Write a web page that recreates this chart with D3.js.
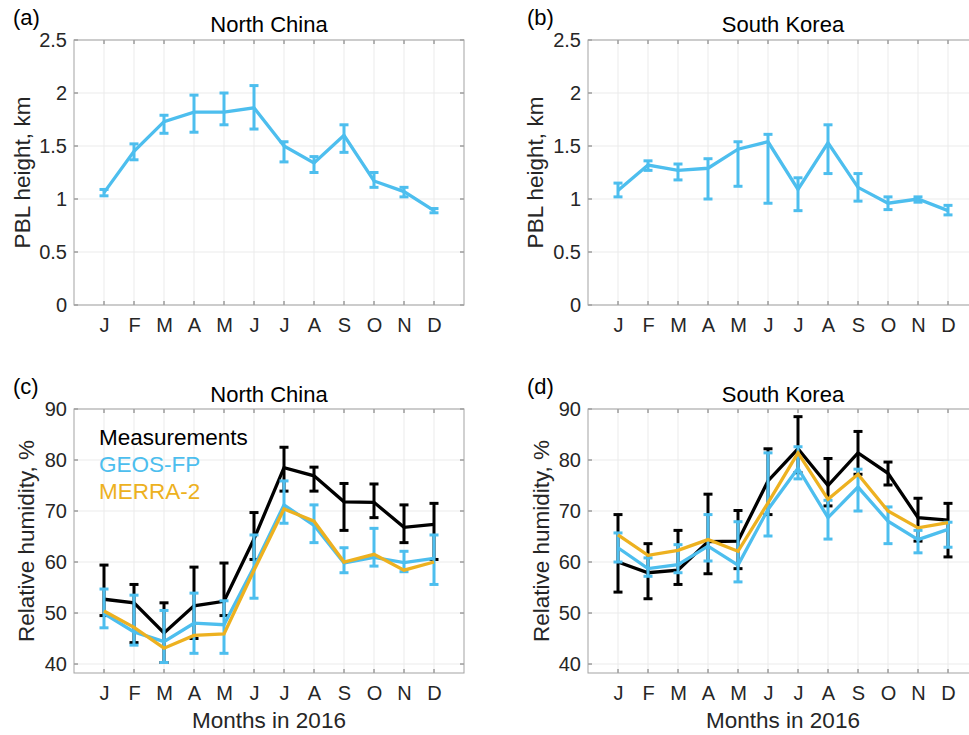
<!DOCTYPE html>
<html>
<head>
<meta charset="utf-8">
<script src="https://cdn.jsdelivr.net/npm/d3@7"></script>
<style>
  html, body { margin: 0; padding: 0; background: #fff; }
  svg { display: block; font-family: "Liberation Sans", Arial, Helvetica, sans-serif; }
</style>
</head>
<body>
<svg id="chart" width="969" height="735"></svg>
<script>
// Month labels and indices (1..12)
const months = ["J", "F", "M", "A", "M", "J", "J", "A", "S", "O", "N", "D"];
const monthIndex = d3.range(1, 13);

// PBL height (km), North China: monthly value with lower/upper error bounds
const pblNorthChina     = [1.06, 1.45, 1.73, 1.82, 1.82, 1.86, 1.50, 1.34, 1.60, 1.17, 1.07, 0.89];
const pblNorthChinaLow  = [1.03, 1.37, 1.62, 1.63, 1.70, 1.66, 1.35, 1.25, 1.44, 1.11, 1.02, 0.87];
const pblNorthChinaHigh = [1.09, 1.52, 1.79, 1.98, 2.00, 2.07, 1.54, 1.40, 1.70, 1.25, 1.11, 0.91];

// PBL height (km), South Korea
const pblSouthKorea     = [1.08, 1.32, 1.27, 1.29, 1.47, 1.54, 1.09, 1.53, 1.11, 0.96, 1.00, 0.89];
const pblSouthKoreaLow  = [1.02, 1.27, 1.18, 1.00, 1.12, 0.96, 0.89, 1.24, 0.98, 0.90, 0.97, 0.85];
const pblSouthKoreaHigh = [1.15, 1.36, 1.33, 1.38, 1.54, 1.61, 1.20, 1.70, 1.24, 1.02, 1.02, 0.94];

// Relative humidity (%), North China
const rhNcMeas     = [52.7, 52.0, 46.1, 51.4, 52.3, 64.5, 78.5, 76.9, 71.8, 71.7, 66.8, 67.4];
const rhNcMeasLow  = [49.5, 44.2, 40.3, 45.0, 49.5, 60.5, 73.9, 73.9, 66.2, 68.7, 63.8, 60.5];
const rhNcMeasHigh = [59.4, 55.6, 52.0, 59.0, 59.8, 69.7, 82.5, 78.6, 75.4, 75.3, 71.2, 71.5];
const rhNcGeos     = [49.9, 46.3, 44.4, 48.0, 47.7, 59.0, 71.2, 67.2, 59.8, 60.9, 59.9, 60.7];
const rhNcGeosLow  = [47.1, 43.7, 40.3, 42.1, 42.1, 52.9, 67.6, 63.8, 57.9, 59.2, 58.1, 55.6];
const rhNcGeosHigh = [54.7, 53.5, 50.5, 53.9, 52.4, 65.3, 75.9, 71.2, 62.8, 66.6, 62.1, 65.3];
const rhNcMerra    = [50.4, 47.2, 43.1, 45.6, 45.9, 58.4, 70.4, 68.0, 60.0, 61.5, 58.4, 60.0];

// Relative humidity (%), South Korea
const rhSkMeas     = [60.0, 57.9, 58.4, 64.0, 64.1, 75.9, 82.2, 75.0, 81.4, 77.4, 68.7, 68.2];
const rhSkMeasLow  = [54.1, 52.8, 55.6, 57.7, 58.7, 69.3, 77.5, 71.0, 77.2, 75.1, 64.1, 61.0];
const rhSkMeasHigh = [69.3, 63.6, 66.2, 73.3, 70.1, 82.2, 88.5, 80.3, 85.6, 79.6, 72.5, 71.5];
const rhSkGeos     = [62.8, 58.7, 59.5, 63.1, 59.4, 70.3, 78.4, 68.7, 74.7, 68.0, 64.4, 66.4];
const rhSkGeosLow  = [60.0, 57.2, 57.9, 60.2, 56.1, 65.1, 76.3, 64.5, 70.0, 63.6, 61.8, 62.9];
const rhSkGeosHigh = [65.7, 60.8, 63.4, 69.3, 67.9, 81.4, 82.6, 72.1, 78.2, 70.8, 66.2, 67.8];
const rhSkMerra    = [65.3, 61.3, 62.3, 64.4, 62.1, 71.6, 81.4, 72.3, 77.2, 70.0, 66.7, 67.7];

// Tick values
const pblTicks = [0, 0.5, 1, 1.5, 2, 2.5];
const rhTicks = [40, 50, 60, 70, 80, 90];

// Series names and colours
const seriesNames = ["Measurements", "GEOS-FP", "MERRA-2"];
const colMeas = "#000000";
const colGeos = "#4DBEEE";
const colMerra = "#EDB120";

const svg = d3.select("#chart");

function drawPanel(cfg) {
  const W = 390, H = cfg.height;
  const x = d3.scaleLinear().domain([0, 13]).range([0, W]);
  const y = d3.scaleLinear().domain(cfg.yDomain).range([H, 0]);
  const g = svg.append("g").attr("transform", `translate(${cfg.left},${cfg.top})`);

  // grid
  g.append("g").selectAll("line").data(monthIndex).join("line")
    .attr("x1", d => x(d)).attr("x2", d => x(d)).attr("y1", 0).attr("y2", H)
    .attr("stroke", "#ebebeb").attr("stroke-width", 1);
  g.append("g").selectAll("line").data(cfg.yTicks).join("line")
    .attr("x1", 0).attr("x2", W).attr("y1", d => y(d)).attr("y2", d => y(d))
    .attr("stroke", "#ebebeb").attr("stroke-width", 1);

  // inward tick marks on all four sides
  const tk = 4;
  const ticks = g.append("g").attr("stroke", "#707070").attr("stroke-width", 1);
  monthIndex.forEach(d => {
    ticks.append("line").attr("x1", x(d)).attr("x2", x(d)).attr("y1", H).attr("y2", H - tk);
    ticks.append("line").attr("x1", x(d)).attr("x2", x(d)).attr("y1", 0).attr("y2", tk);
  });
  cfg.yTicks.forEach(d => {
    ticks.append("line").attr("x1", 0).attr("x2", tk).attr("y1", y(d)).attr("y2", y(d));
    ticks.append("line").attr("x1", W).attr("x2", W - tk).attr("y1", y(d)).attr("y2", y(d));
  });

  // box
  g.append("rect").attr("x", 0).attr("y", 0).attr("width", W).attr("height", H)
    .attr("fill", "none").attr("stroke", "#a3a3a3").attr("stroke-width", 1);

  // tick labels
  const xAxis = d3.axisBottom(x).tickValues(monthIndex).tickFormat(d => months[d - 1])
    .tickSize(0).tickPadding(12.8);
  const xg = g.append("g").attr("transform", `translate(0,${H})`).call(xAxis);
  const yAxis = d3.axisLeft(y).tickValues(cfg.yTicks).tickFormat(d => String(d))
    .tickSize(0).tickPadding(7);
  const yg = g.append("g").call(yAxis);
  [xg, yg].forEach(a => {
    a.select(".domain").remove();
    a.selectAll("text").attr("font-size", 20).attr("fill", "#262626")
      .attr("font-family", "Liberation Sans, Arial, sans-serif");
  });

  // series: line, then error bars with caps
  cfg.series.forEach(s => {
    const line = d3.line().x((d, i) => x(i + 1)).y(d => y(d));
    g.append("path").datum(s.values).attr("d", line)
      .attr("fill", "none").attr("stroke", s.color).attr("stroke-width", 3.3)
      .attr("stroke-linejoin", "miter").attr("stroke-linecap", "butt");
    if (s.low) {
      const eb = g.append("g").attr("stroke", s.color).attr("stroke-width", 3);
      s.values.forEach((v, i) => {
        const cx = x(i + 1);
        eb.append("line").attr("x1", cx).attr("x2", cx).attr("y1", y(s.low[i])).attr("y2", y(s.high[i]));
        eb.append("line").attr("x1", cx - 4.5).attr("x2", cx + 4.5).attr("y1", y(s.low[i])).attr("y2", y(s.low[i]));
        eb.append("line").attr("x1", cx - 4.5).attr("x2", cx + 4.5).attr("y1", y(s.high[i])).attr("y2", y(s.high[i]));
      });
    }
  });

  // title
  g.append("text").attr("x", W / 2).attr("y", cfg.titleY - cfg.top)
    .attr("text-anchor", "middle").attr("font-size", 22).attr("fill", "#000").text(cfg.title);

  // panel letter
  svg.append("text").attr("x", cfg.letterX).attr("y", cfg.letterY)
    .attr("font-size", 22).attr("fill", "#000").text(cfg.letter);

  // y axis title
  svg.append("text")
    .attr("transform", `translate(${cfg.ylabelX},${cfg.top + H / 2}) rotate(-90)`)
    .attr("text-anchor", "middle").attr("font-size", 22.5).attr("fill", "#262626").text(cfg.ylabel);

  // x axis title
  if (cfg.xlabel) {
    g.append("text").attr("x", W / 2).attr("y", H + 55)
      .attr("text-anchor", "middle").attr("font-size", 22.5).attr("fill", "#262626").text(cfg.xlabel);
  }

  // legend (coloured text entries)
  if (cfg.legend) {
    cfg.legend.forEach((l, i) => {
      g.append("text").attr("x", 25).attr("y", 36 + i * 27)
        .attr("font-size", 22.5).attr("fill", l.color).text(l.name);
    });
  }
}

drawPanel({
  left: 74, top: 40, height: 265, yDomain: [0, 2.5], yTicks: pblTicks,
  title: "North China", titleY: 32, letter: "(a)", letterX: 13, letterY: 25,
  ylabel: "PBL height, km", ylabelX: 29.5,
  series: [{ values: pblNorthChina, low: pblNorthChinaLow, high: pblNorthChinaHigh, color: colGeos }]
});

drawPanel({
  left: 588, top: 40, height: 265, yDomain: [0, 2.5], yTicks: pblTicks,
  title: "South Korea", titleY: 32, letter: "(b)", letterX: 527, letterY: 25,
  ylabel: "PBL height, km", ylabelX: 543,
  series: [{ values: pblSouthKorea, low: pblSouthKoreaLow, high: pblSouthKoreaHigh, color: colGeos }]
});

drawPanel({
  left: 74, top: 409, height: 264, yDomain: [38.24, 90], yTicks: rhTicks,
  title: "North China", titleY: 402, letter: "(c)", letterX: 13, letterY: 394,
  ylabel: "Relative humidity, %", ylabelX: 34, xlabel: "Months in 2016",
  series: [
    { values: rhNcMeas, low: rhNcMeasLow, high: rhNcMeasHigh, color: colMeas },
    { values: rhNcGeos, low: rhNcGeosLow, high: rhNcGeosHigh, color: colGeos },
    { values: rhNcMerra, color: colMerra }
  ],
  legend: [
    { name: seriesNames[0], color: colMeas },
    { name: seriesNames[1], color: colGeos },
    { name: seriesNames[2], color: colMerra }
  ]
});

drawPanel({
  left: 588, top: 409, height: 264, yDomain: [38.24, 90], yTicks: rhTicks,
  title: "South Korea", titleY: 402, letter: "(d)", letterX: 527, letterY: 394,
  ylabel: "Relative humidity, %", ylabelX: 549, xlabel: "Months in 2016",
  series: [
    { values: rhSkMeas, low: rhSkMeasLow, high: rhSkMeasHigh, color: colMeas },
    { values: rhSkGeos, low: rhSkGeosLow, high: rhSkGeosHigh, color: colGeos },
    { values: rhSkMerra, color: colMerra }
  ]
});
</script>
</body>
</html>
